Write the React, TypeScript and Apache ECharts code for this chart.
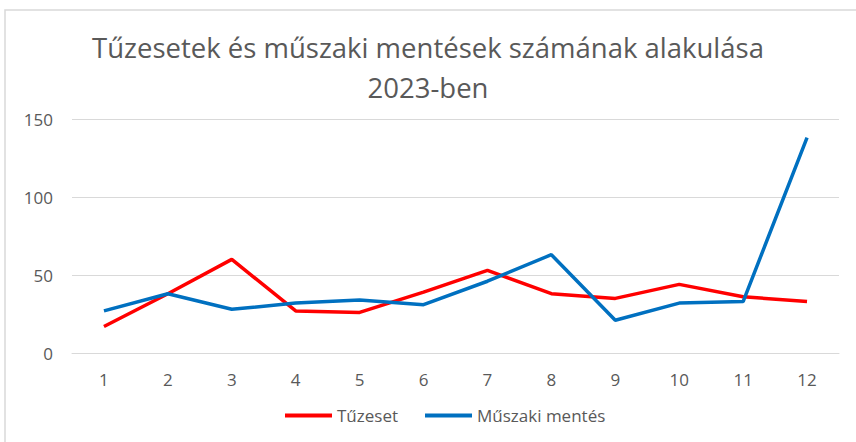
import React, { useEffect, useRef } from "react";
import * as echarts from "echarts";

const categories = ["1", "2", "3", "4", "5", "6", "7", "8", "9", "10", "11", "12"];
const tuzeset = [17, 38, 60, 27, 26, 39, 53, 38, 35, 44, 36, 33];
const muszaki = [27, 38, 28, 32, 34, 31, 46, 63, 21, 32, 33, 138];
const titleText = "Tűzesetek és műszaki mentések számának alakulása\n2023-ben";

export default function App() {
  const ref = useRef<HTMLDivElement>(null);
  useEffect(() => {
    if (!ref.current) return;
    const chart = echarts.init(ref.current, undefined, { renderer: "svg" });
    const font = "Open Sans";
    chart.setOption({
      animation: false,
      backgroundColor: "#ffffff",
      textStyle: { fontFamily: font },
      graphic: [
        {
          type: "rect",
          shape: { x: 5, y: 10, width: 900, height: 500 },
          style: { fill: "none", stroke: "#d9d9d9", lineWidth: 1.5 },
          silent: true,
        },
      ],
      title: {
        text: titleText,
        left: "center",
        top: 22,
        textStyle: {
          fontFamily: font,
          fontSize: 27.5,
          fontWeight: "normal",
          color: "#595959",
          lineHeight: 40,
        },
      },
      legend: {
        top: 402,
        left: 280,
        itemWidth: 47,
        itemHeight: 4,
        itemGap: 27,
        icon: "rect",
        textStyle: { fontFamily: font, fontSize: 17, color: "#595959" },
        data: ["Tűzeset", "Műszaki mentés"],
      },
      grid: { left: 72, right: 17, top: 119, bottom: 89 },
      xAxis: {
        type: "category",
        data: categories,
        boundaryGap: true,
        axisLine: { lineStyle: { color: "#d9d9d9" } },
        axisTick: { show: false },
        axisLabel: { color: "#595959", fontSize: 17, margin: 18, fontFamily: font },
      },
      yAxis: {
        type: "value",
        min: 0,
        max: 150,
        interval: 50,
        axisLine: { show: false },
        axisTick: { show: false },
        splitLine: { lineStyle: { color: "#d9d9d9" } },
        axisLabel: { color: "#595959", fontSize: 17, margin: 19, fontFamily: font },
      },
      series: [
        {
          name: "Tűzeset",
          type: "line",
          data: tuzeset,
          symbol: "none",
          lineStyle: { color: "#ff0000", width: 3.5 },
          itemStyle: { color: "#ff0000" },
        },
        {
          name: "Műszaki mentés",
          type: "line",
          data: muszaki,
          symbol: "none",
          lineStyle: { color: "#0070c0", width: 3.5 },
          itemStyle: { color: "#0070c0" },
        },
      ],
    });
    return () => chart.dispose();
  }, []);
  return (
    <div
      ref={ref}
      style={{ position: "absolute", left: 0, top: 0, width: 856, height: 442 }}
    />
  );
}
